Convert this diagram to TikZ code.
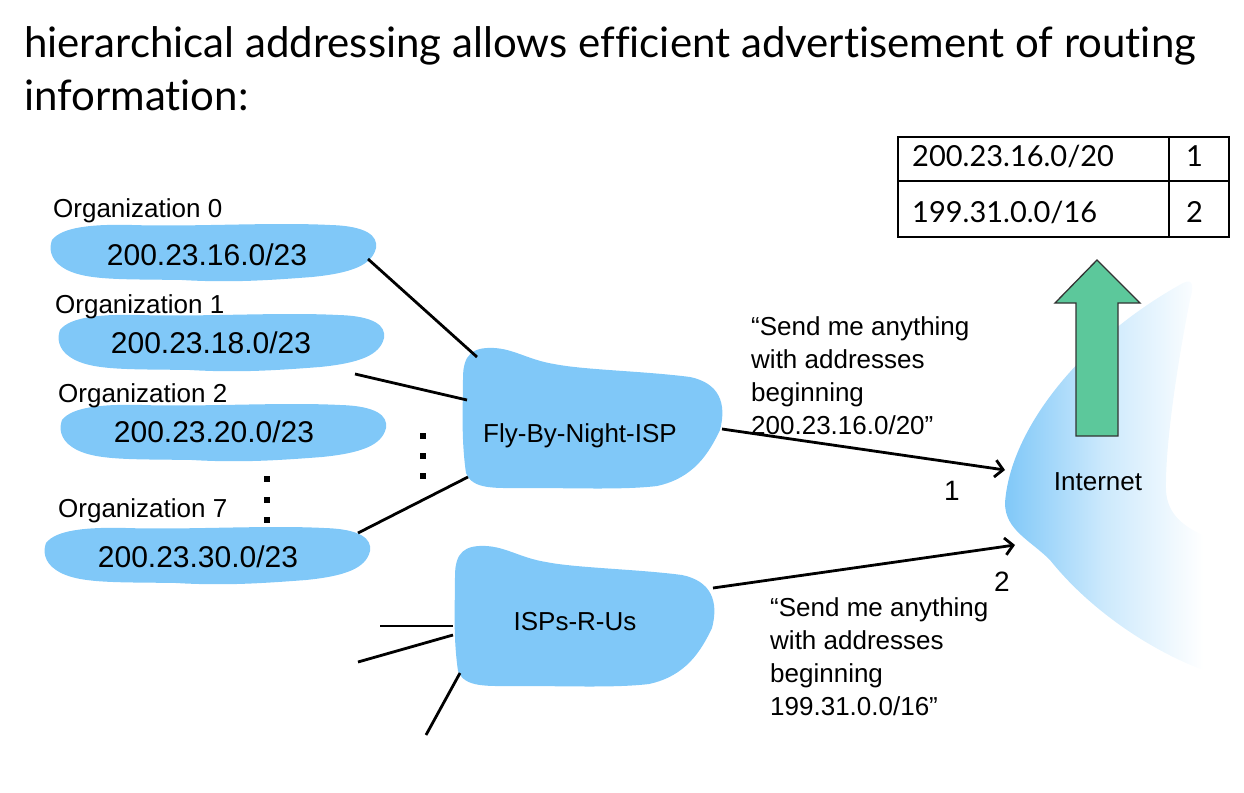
\documentclass[tikz,border=0pt]{standalone}
\usepackage{fontspec}
\setmainfont{Liberation Sans}
\newfontfamily\gillfont[Ligatures=NoCommon]{Lato}
\usetikzlibrary{arrows.meta,calc}
\definecolor{blobc}{RGB}{128,200,248}
\definecolor{arrgreen}{RGB}{92,200,155}
\tikzset{
  orgshape/.pic={
    \fill[blobc] (-160,-12) .. controls (-150,-25) and (-120,-28) .. (-80,-27)
      .. controls (-20,-25) and (60,-30) .. (118,-27)
      .. controls (155,-26) and (166,-16) .. (164,-4)
      .. controls (160,13) and (140,21) .. (100,25)
      .. controls (60,28) and (20,31) .. (-30,28)
      .. controls (-90,27) and (-130,29) .. (-150,15)
      .. controls (-162,7) and (-163,-4) .. (-160,-12) -- cycle;
  },
  ispshape/.pic={
    \fill[blobc] (-131,-40) .. controls (-131,-64) and (-121,-71) .. (-100,-70)
      .. controls (-80,-69) and (-65,-58) .. (-40,-54)
      .. controls (-10,-48) and (50,-47) .. (96,-41)
      .. controls (125,-35) and (133,-15) .. (126,12)
      .. controls (115,35) and (100,60) .. (63,68)
      .. controls (30,72) and (-20,70) .. (-64,70)
      .. controls (-100,70) and (-121,72) .. (-128,55)
      .. controls (-133,20) and (-131,-10) .. (-131,-40) -- cycle;
  }
}
\begin{document}
\begin{tikzpicture}[x=1pt,y=-1pt,
  lbl/.style={font=\fontsize{26}{33}\selectfont, inner sep=0pt},
  ip/.style={font=\fontsize{30}{32}\selectfont, inner sep=0pt, anchor=base},
  tab/.style={font=\gillfont\fontsize{29}{32}\selectfont, inner sep=0pt, anchor=base west},
  conn/.style={line width=2.8pt},
  arr/.style={line width=2.8pt, -{Straight Barb[length=8pt,width=17pt]}},
  dotsq/.style={fill=black}]
\useasboundingbox (0,0) rectangle (1244,792);

% title
\node[anchor=base west, inner sep=0pt, font=\gillfont\fontsize{42}{53}\selectfont] (t1) at (24,57) {hierarchical addressing allows efficient advertisement of routing};
\node[anchor=base west, inner sep=0pt, font=\gillfont\fontsize{42}{53}\selectfont] (t2) at (24,110) {information:};

% table
\draw[line width=1.5pt] (898,137) rectangle (1229,237);
\draw[line width=1.5pt] (898,181) -- (1229,181);
\draw[line width=1.5pt] (1169,137) -- (1169,237);
\node[tab] (r1a) at (912,166) {200.23.16.0/20};
\node[tab] (r1b) at (1186,166) {1};
\node[tab] (r2a) at (912,222) {199.31.0.0/16};
\node[tab] (r2b) at (1186,222) {2};

% internet cloud
\shade[left color=blobc, right color=white, middle color=blobc!40]
  (1005,503) .. controls (1010,430) and (1080,340) .. (1183,283)
  .. controls (1195,277) and (1193,290) .. (1190,300)
  .. controls (1180,350) and (1165,440) .. (1166,490)
  .. controls (1167,515) and (1185,527) .. (1203,535)
  -- (1203,670)
  .. controls (1150,650) and (1090,610) .. (1050,560)
  .. controls (1030,540) and (1005,530) .. (1005,503) -- cycle;
\node[lbl, anchor=base] (inet) at (1098,490) {Internet};

% green arrow
\filldraw[fill=arrgreen, draw=black!80, line width=1.3pt]
  (1097,260) -- (1140,303) -- (1118,303) -- (1118,436) -- (1076,436) -- (1076,303) -- (1055,303) -- cycle;

% organization blobs
\pic at (212,252) {orgshape};
\pic at (220,342) {orgshape};
\pic at (222,432) {orgshape};
\pic at (206,555) {orgshape};
\node[lbl, anchor=base west] (l0) at (53,217) {Organization 0};
\node[lbl, anchor=base west] (l1) at (55,313) {Organization 1};
\node[lbl, anchor=base west] (l2) at (58,402) {Organization 2};
\node[lbl, anchor=base west] (l7) at (58,517) {Organization 7};
\node[ip] (o0) at (207,265) {200.23.16.0/23};
\node[ip] (o1) at (211,353) {200.23.18.0/23};
\node[ip] (o2) at (214,442) {200.23.20.0/23};
\node[ip] (o7) at (198,567) {200.23.30.0/23};

% dots
\foreach \yy in {479,500,520} \fill[dotsq] (264,\yy-3) rectangle (270,\yy+3);
\foreach \yy in {436,456,476} \fill[dotsq] (420,\yy-3) rectangle (426,\yy+3);

% ISP blobs
\pic at (594,418) {ispshape};
\pic at (586,616) {ispshape};
\node[lbl, anchor=base] (fbn) at (580,442) {Fly-By-Night-ISP};
\node[lbl, anchor=base] (isp) at (575,630) {ISPs-R-Us};

% connectors
\draw[conn] ([shift={(161,-6)}]o0.base) -- ([shift={(-103,-85)}]fbn.base);
\draw[conn] ([shift={(144,21)}]o1.base) -- ([shift={(-113,-42)}]fbn.base);
\draw[conn] ([shift={(160,-34)}]o7.base) -- ([shift={(-112,35)}]fbn.base);
\draw[conn] ([shift={(-122,-4)}]isp.base) -- ([shift={(-195,-4)}]isp.base);
\draw[conn] ([shift={(-122,5)}]isp.base) -- ([shift={(-217,32)}]isp.base);
\draw[conn] ([shift={(-115,43)}]isp.base) -- ([shift={(-149,105)}]isp.base);
\draw[arr] ([shift={(142,-13)}]fbn.base) -- ([shift={(-93,-20)}]inet.base);
\draw[arr] ([shift={(138,-42)}]isp.base) -- ([shift={(-83,55)}]inet.base);

% labels on arrows
\node[font=\fontsize{28}{32}\selectfont, inner sep=0pt, anchor=base] (n1) at (952,500) {1};
\node[font=\fontsize{28}{32}\selectfont, inner sep=0pt, anchor=base] (n2) at (1002,591) {2};

% quotes
\node[lbl, align=left, anchor=north west] (q1) at (751,316) {“Send me anything\\with addresses\\beginning\\200.23.16.0/20”};
\node[lbl, align=left, anchor=north west] (q2) at (770,597) {“Send me anything\\with addresses\\beginning\\199.31.0.0/16”};
\end{tikzpicture}
\end{document}
